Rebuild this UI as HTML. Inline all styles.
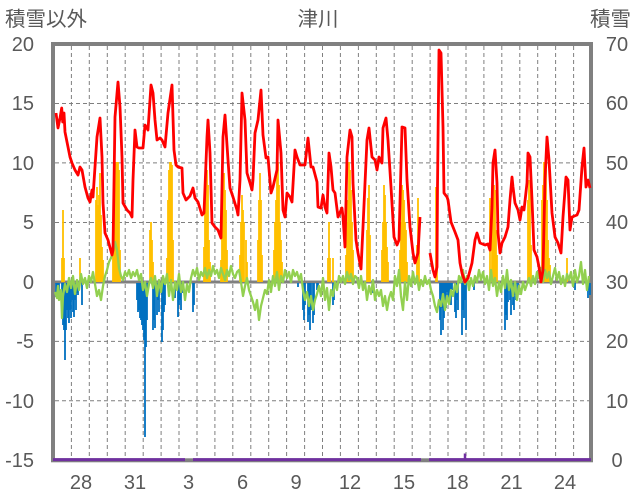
<!DOCTYPE html>
<html><head><meta charset="utf-8"><style>
html,body{margin:0;padding:0;background:#fff;}
svg{display:block;}
text{font-family:"Liberation Sans","Noto Sans CJK JP",sans-serif;fill:#595959;}
</style></head><body>
<svg width="636" height="501" viewBox="0 0 636 501" xmlns="http://www.w3.org/2000/svg">
<rect width="636" height="501" fill="#fff"/>
<!-- titles -->
<text x="5" y="26" font-size="20.5" font-family="'Noto Sans CJK JP',sans-serif">積雪以外</text>
<text x="318" y="26" font-size="20.5" text-anchor="middle" font-family="'Noto Sans CJK JP',sans-serif">津川</text>
<text x="590" y="26" font-size="20.5" font-family="'Noto Sans CJK JP',sans-serif">積雪</text>
<!-- grid -->
<g stroke="#7f7f7f" stroke-width="1" stroke-dasharray="4,3" fill="none">
<path d="M55 103.5H589 M55 162.9H589 M55 222.5H589 M55 341.4H589 M55 400.8H589"/>
<path d="M71.4 46V459 M89.3 46V459 M107.3 46V459 M125.2 46V459 M143.2 46V459 M161.1 46V459 M179 46V459 M197 46V459 M214.9 46V459 M232.8 46V459 M250.8 46V459 M268.7 46V459 M286.6 46V459 M304.6 46V459 M322.5 46V459 M340.4 46V459 M358.4 46V459 M376.3 46V459 M394.2 46V459 M412.2 46V459 M430.1 46V459 M448 46V459 M466 46V459 M483.9 46V459 M501.8 46V459 M519.8 46V459 M537.7 46V459 M555.6 46V459 M573.6 46V459"/>
</g>
<!-- zero line -->
<line x1="53" y1="282" x2="591" y2="282" stroke="#808080" stroke-width="3"/>
<!-- frame -->
<rect x="53" y="44" width="538" height="416.3" fill="none" stroke="#808080" stroke-width="4"/>
<!-- yellow bars -->
<path fill="none" stroke="#FFC000" stroke-width="1.8" d="M62 282V258 M63 282V210 M64 282V258 M80 282V258 M96 282V200 M97 282V187 M98 282V205 M99 282V195 M100 282V173 M101 282V215 M102 282V247 M103 282V260 M113 282V250 M114 282V190 M115 282V162 M116 282V162 M117 282V162 M118 282V162 M119 282V170 M120 282V250 M150 282V230 M151 282V222 M152 282V240 M153 282V262 M167 282V258 M168 282V200 M169 282V170 M170 282V162 M171 282V162 M172 282V165 M173 282V240 M204 282V247 M205 282V200 M206 282V162 M207 282V170 M208 282V185 M209 282V240 M210 282V262 M221 282V260 M222 282V200 M223 282V185 M224 282V173 M225 282V190 M226 282V210 M227 282V250 M240 282V255 M241 282V222 M242 282V195 M243 282V210 M244 282V222 M246 282V240 M247 282V262 M258 282V240 M259 282V200 M260 282V173 M261 282V200 M262 282V255 M274 282V250 M275 282V222 M276 282V200 M277 282V175 M278 282V162 M279 282V185 M280 282V222 M281 282V240 M282 282V262 M328 282V258 M329 282V222 M330 282V258 M333 282V258 M346 282V255 M347 282V222 M348 282V200 M349 282V162 M350 282V170 M351 282V190 M352 282V222 M353 282V250 M367 282V230 M368 282V198 M369 282V185 M370 282V235 M382 282V250 M383 282V222 M384 282V185 M385 282V195 M386 282V222 M387 282V247 M388 282V262 M400 282V250 M401 282V222 M402 282V185 M403 282V190 M404 282V200 M405 282V222 M406 282V230 M407 282V262 M417 282V245 M418 282V198 M419 282V240 M436 282V187 M437 282V255 M490 282V198 M492 282V200 M493 282V188 M494 282V185 M495 282V190 M496 282V230 M497 282V255 M528 282V200 M529 282V180 M530 282V190 M531 282V245 M542 282V200 M543 282V185 M544 282V162 M545 282V162 M546 282V170 M547 282V200 M548 282V240 M549 282V258 M550 282V265 M567 282V258"/>
<!-- blue bars -->
<path fill="none" stroke="#0070C0" stroke-width="1.8" d="M56 283V297 M57 283V290 M58 283V293 M59 283V300 M62 283V310 M63 283V325 M64 283V330 M65 283V360 M66 283V330 M67 283V310 M68 283V318 M69 283V323 M70 283V310 M71 283V318 M72 283V300 M73 283V312 M74 283V317 M75 283V300 M76 283V310 M77 283V293 M78 283V295 M82 283V305 M137 283V300 M138 283V312 M139 283V310 M140 283V318 M141 283V320 M142 283V325 M143 283V330 M144 283V340 M145 283V437 M146 283V347 M147 283V320 M153 283V330 M154 283V320 M155 283V328 M157 283V315 M158 283V300 M159 283V312 M162 283V342 M163 283V330 M164 283V312 M165 283V305 M175 283V298 M178 283V317 M179 283V305 M180 283V300 M181 283V310 M183 283V293 M193 283V312 M194 283V305 M298 283V287 M303 283V310 M304 283V320 M305 283V305 M308 283V322 M309 283V315 M310 283V330 M311 283V310 M313 283V323 M314 283V315 M317 283V290 M318 283V287 M333 283V305 M334 283V300 M373 283V293 M440 283V320 M441 283V335 M442 283V308 M443 283V330 M444 283V318 M445 283V300 M446 283V308 M447 283V292 M448 283V300 M449 283V295 M450 283V300 M451 283V305 M452 283V290 M455 283V312 M456 283V318 M457 283V300 M458 283V310 M462 283V335 M463 283V310 M464 283V318 M465 283V300 M466 283V330 M473 283V287 M474 283V290 M505 283V330 M506 283V315 M507 283V320 M508 283V302 M510 283V300 M511 283V315 M512 283V292 M513 283V305 M514 283V310 M515 283V295 M516 283V300 M518 283V292 M575 283V290 M588 283V298 M589 283V290 M590 283V295"/>
<!-- green line -->
<polyline fill="none" stroke="#92D050" stroke-width="2.3" stroke-linejoin="round" points="55,292 57,298 58,286 59,300 61,290 62,318 63,296 65,284 67,292 69,278 71,288 73,276 75,294 77,280 79,290 81,274 83,284 85,278 87,288 89,276 91,282 93,272 95,284 97,296 99,290 101,300 103,286 105,276 107,270 109,262 111,258 113,252 115,242 117,250 119,268 121,276 123,280 125,272 127,276 129,270 131,278 133,272 135,276 137,270 139,280 141,274 143,290 145,282 147,296 149,284 151,278 153,288 155,276 157,296 159,280 161,292 163,276 165,284 167,274 169,296 171,280 173,300 175,282 177,290 179,274 181,292 183,282 185,300 187,284 189,292 191,278 193,270 195,276 197,268 199,280 201,272 203,276 205,268 207,278 209,270 211,276 213,266 215,274 217,270 219,278 221,268 223,274 225,280 227,270 229,276 231,266 233,274 235,278 237,272 239,270 241,282 243,296 245,286 247,278 249,290 251,296 253,302 255,310 257,300 259,320 261,306 263,298 265,290 267,294 269,280 271,292 273,276 275,286 277,272 279,290 281,276 283,282 285,270 287,278 289,272 291,282 293,270 295,276 297,272 299,280 301,274 303,290 305,300 307,292 309,306 311,296 313,310 315,300 317,294 319,286 321,296 323,278 325,300 327,288 329,310 331,290 333,296 335,282 337,290 339,276 341,282 343,276 345,284 347,272 349,280 351,274 353,284 355,276 357,278 359,288 361,276 363,290 365,282 367,300 369,286 371,294 373,280 375,300 377,290 379,296 381,290 383,306 385,296 387,310 389,298 391,292 393,300 395,276 397,286 399,270 401,296 403,310 405,282 407,300 409,276 411,286 413,272 415,284 417,276 419,290 421,280 423,286 425,276 427,284 429,280 431,290 433,296 435,306 437,312 439,300 441,306 443,294 445,310 447,296 449,304 451,290 453,296 455,284 457,292 459,276 461,282 463,270 465,284 467,276 469,290 471,278 473,286 475,276 477,282 479,270 481,280 483,272 485,284 487,276 489,290 491,270 493,286 495,278 497,296 499,282 501,292 503,276 505,288 507,270 509,290 511,280 513,296 515,282 517,300 519,286 521,294 523,282 525,290 527,284 529,278 531,286 533,276 535,284 537,272 539,278 541,268 543,282 545,270 547,278 549,272 551,284 553,276 555,268 557,280 559,272 561,284 563,276 565,286 567,274 569,280 571,272 573,286 575,270 577,282 579,276 581,262 583,284 585,270 587,290 589,276"/>
<!-- red line -->
<g fill="none" stroke="#FF0000" stroke-width="2.8" stroke-linejoin="round">
<polyline points="56,113 58,128 60,118 61.7,108 62.7,122 64,113 65,132 68,147 70,157 72,163 75,170 78,175 80,167 82,170 85,187 88,198 90,202 92,190 93,197 97,137 100,118 102,157 103,203 105,233 108,240 112,255 113,250 115,117 118,82 120,107 122,157 123,203 127,210 130,213 132,217 133,180 135,130 137,147 139,148 143,148 145,125 148,130 151,85 153,93 155,120 157,140 160,138 162,140 165,147 168,113 172,85 174,150 176,165 178,167 182,168 183,193 186,200 190,196 193,188 195,198 198,202 202,215 204,213 207,137 208,120 210,153 212,223 215,227 218,230 221,238 223,137 225,115 228,160 230,188 233,197 237,210 238,215 240,180 242,93 245,120 247,173 250,183 252,190 253,180 255,133 258,120 261,90 263,135 266,158 268,157 271,193 273,187 277,170 278,120 281,153 283,210 285,217 287,193 290,197 292,202 295,150 297,157 300,165 305,165 308,138 311,167 313,167 317,182 318,207 321,208 323,195 325,207 327,213 329,153 331,167 333,190 335,193 338,217 342,208 343,217 345,247 347,157 350,130 352,137 353,183 356,240 358,253 361,269 363,227 367,140 369,128 372,157 375,160 377,170 379,157 382,163 383,128 386,118 388,140 391,187 394,237 397,245 399,240 402,127 405,128 407,180 410,227 413,253 415,263 418,253 420,217"/>
<polyline points="430,253 433,270 435,277 437,267 437.5,187 439,50 441,53 443,127 444,193 447,197 448,200 451,222 453,227 455,232 458,240 460,263 462,273 465,282 468,278 472,263 475,240 477,233 480,243 485,245 488,244 490,250 492,207 493,163 495,150 497,183 498,233 500,253 502,243 505,237 508,227 510,200 512,177 513,187 515,203 518,210 520,220 522,207 524,210 527,183 528,153 530,157 532,200 534,250 537,257 539,267 541,282 543,270 545,180 547,137 549,160 552,213 555,237 558,243 561,253 563,217 566,177 568,180 570,230 572,217 577,215 579,210 582,167 584,148 586,187 588,180 590,188"/>
</g>
<!-- purple snow depth -->
<g stroke="#7030A0" stroke-width="3" fill="none">
<path d="M53 459.6H185 M193 459.6H421 M429 459.6H591"/>
<path d="M465 459V453.5" stroke-width="2.5"/>
</g>
<!-- left axis labels -->
<g font-size="20" text-anchor="end">
<text x="34" y="51">20</text>
<text x="34" y="110">15</text>
<text x="34" y="170">10</text>
<text x="34" y="229">5</text>
<text x="34" y="289">0</text>
<text x="34" y="348">-5</text>
<text x="34" y="408">-10</text>
<text x="34" y="467">-15</text>
</g>
<!-- right axis labels -->
<g font-size="20" text-anchor="middle">
<text x="617" y="51">70</text>
<text x="617" y="110">60</text>
<text x="617" y="170">50</text>
<text x="617" y="229">40</text>
<text x="617" y="289">30</text>
<text x="617" y="348">20</text>
<text x="617" y="408">10</text>
<text x="617" y="467">0</text>
</g>
<!-- x axis labels -->
<g font-size="20" text-anchor="middle">
<text x="81" y="489">28</text>
<text x="135" y="489">31</text>
<text x="188.5" y="489">3</text>
<text x="242.5" y="489">6</text>
<text x="296" y="489">9</text>
<text x="350" y="489">12</text>
<text x="404" y="489">15</text>
<text x="457.5" y="489">18</text>
<text x="511.5" y="489">21</text>
<text x="565" y="489">24</text>
</g>
</svg>
</body></html>
